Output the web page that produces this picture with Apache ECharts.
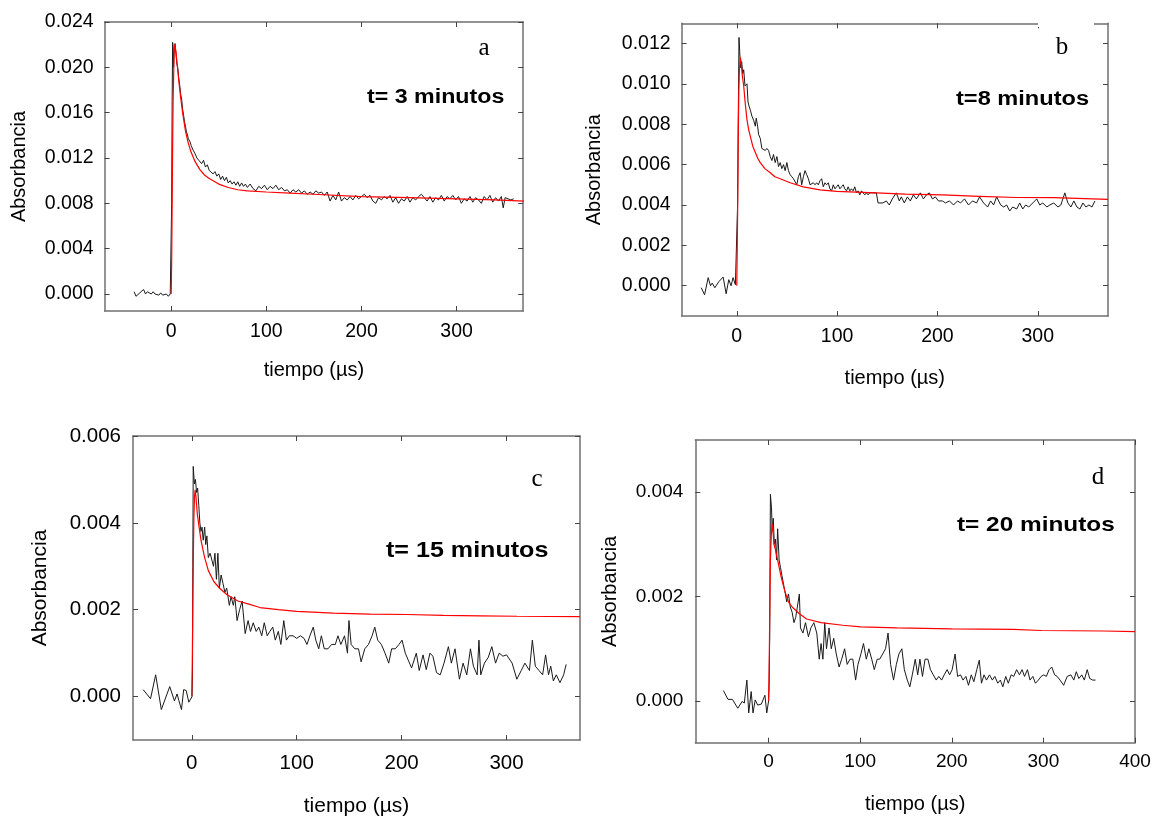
<!DOCTYPE html>
<html><head><meta charset="utf-8">
<script src="https://cdn.jsdelivr.net/npm/echarts@6/dist/echarts.min.js"></script>
<style>html,body{margin:0;padding:0;background:#fff}#chart{width:1155px;height:818px}</style>
</head><body><div id="chart"></div>
<script>
// ---------------- DATA ----------------
const xTicks = [0, 100, 200, 300];
const xTicksD = [0, 100, 200, 300, 400];
const yTicksA = [0, 0.004, 0.008, 0.012, 0.016, 0.020, 0.024];
const yTicksB = [0, 0.002, 0.004, 0.006, 0.008, 0.010, 0.012];
const yTicksC = [0, 0.002, 0.004, 0.006];
const yTicksD = [0, 0.002, 0.004];
const panelLabels = ['a', 'b', 'c', 'd'];
const panelNotes = ['t= 3 minutos', 't=8 minutos', 't= 15 minutos', 't= 20 minutos'];
const xName = 'tiempo (\u00b5s)';
const yName = 'Absorbancia';

// panel a : measured trace [tiempo, absorbancia]
const dataA = [
 [-39,0.0002],[-37,-0.0002],[-35,-0.0001],[-33,0.0001],[-31,0.0000],[-29,0.0004],[-27,0.0000],[-25,0.0002],[-23,0.0003],[-21,0.0000],
 [-19,0.0002],[-17,0.0000],[-15,0.0001],[-13,-0.0001],[-11,0.0001],[-9,-0.0001],[-7,-0.0002],[-5,0.0000],[-3,-0.0002],[-1,0.0000],[0,0.0000],
 [0.5,0.008],[1,0.017],[1.5,0.0222],[2,0.0218],[2.5,0.0200],[3,0.0214],
 [4,0.0221],[5,0.0212],[6,0.0203],[7,0.0199],[8,0.0190],[9,0.0184],[10,0.0176],[11,0.0172],[12,0.0163],[13,0.0158],[14,0.0152],[15,0.0148],
 [16,0.0143],[17,0.0141],[18,0.0137],[19,0.0136],[20,0.0134],[21,0.0131],[22,0.0131],[23,0.0127],[24,0.0126],[25,0.0124],[26,0.0123],
 [27,0.0120],[28,0.0121],[29,0.0118],[30,0.0119],
 [32,0.0115],[34,0.0118],[36,0.0112],[38,0.0114],[40,0.0109],[42,0.0110],[44,0.0106],[46,0.0108],[48,0.0104],[50,0.0106],[52,0.0101],
 [54,0.0104],[56,0.0100],[58,0.0103],[60,0.0098],[62,0.0100],[64,0.0097],[66,0.0099],[68,0.0096],[70,0.0099],[72,0.0095],[74,0.0098],
 [76,0.0095],[78,0.0097],[80,0.0094],
 [83,0.0097],[86,0.0093],[89,0.0091],[92,0.0095],[95,0.0093],[98,0.0096],[101,0.0092],[104,0.0095],[107,0.0093],[110,0.0096],[113,0.0092],
 [116,0.0094],[119,0.0091],[122,0.0092],[125,0.0089],[128,0.0092],[131,0.0090],[134,0.0092],[137,0.0089],[140,0.0091],[143,0.0088],
 [146,0.0090],[149,0.0088],[152,0.0091],[155,0.0089],[158,0.0090],[161,0.0087],[164,0.0090],[167,0.0082],[170,0.0087],[173,0.0083],
 [176,0.0090],[179,0.0082],[182,0.0085],[185,0.0083],[188,0.0086],[191,0.0083],[194,0.0087],[197,0.0084],[200,0.0086],[203,0.0088],
 [206,0.0085],[209,0.0087],[212,0.0082],[215,0.0080],[218,0.0085],[221,0.0083],[224,0.0086],[227,0.0084],[230,0.0087],[233,0.0081],
 [236,0.0085],[239,0.0080],[242,0.0084],[245,0.0082],[248,0.0086],[251,0.0081],[254,0.0085],[257,0.0083],[260,0.0086],[263,0.0088],
 [266,0.0085],[269,0.0082],[272,0.0086],[275,0.0081],[278,0.0085],[281,0.0083],[284,0.0087],[287,0.0082],[290,0.0086],[293,0.0084],
 [296,0.0087],[299,0.0083],[302,0.0086],[305,0.0080],[308,0.0084],[311,0.0082],[314,0.0086],[317,0.0081],[320,0.0085],[323,0.0083],
 [326,0.0080],[329,0.0086],[332,0.0083],[335,0.0087],[338,0.0081],[341,0.0085],[344,0.0082],[347,0.0086],[349,0.0076],[351,0.0085],
 [354,0.0084],[357,0.0083],[360,0.0084]
];
// panel a : fitted curve
const fitA = [
 [0,0],[0.5,0.003],[1,0.008],[1.5,0.013],[2,0.017],[2.5,0.019],[3,0.021],[3.5,0.022],[4,0.0221],[5,0.0214],[6,0.0205],[8,0.0188],
 [10,0.0173],[12,0.0160],[15,0.0144],[18,0.0133],[21,0.0125],[25,0.0117],[30,0.0110],[35,0.0105],[40,0.0102],[50,0.0097],[60,0.0094],
 [70,0.0092],[80,0.0091],[100,0.0090],[125,0.0089],[150,0.0088],[200,0.0086],[250,0.0085],[300,0.0084],[340,0.0083],[371,0.0082]
];

// panel b
const dataB = [
 [-35.4,-0.0001],[-32.1,-0.00045],[-28.5,0.0004],[-26.2,0.0],[-24.5,0.00013],[-21.9,-0.0001],[-17.9,0.0002],[-13.6,0.00043],
 [-10.6,-0.0004],[-8,0.0003],[-5.7,0.0],[-3.7,0.0004],[-1.4,0.00005],[0.3,0.0001],[0.8,0.004],[1.5,0.0085],[2.2,0.0123],
 [2.9,0.0116],[3.9,0.0108],[4.9,0.0111],[5.9,0.0105],[6.9,0.0107],[8.2,0.0099],[10.2,0.0100],[11.2,0.0091],[12.2,0.0089],
 [13.5,0.0087],[15.1,0.0084],[16.8,0.0082],[18.5,0.0079],[19.4,0.0083],[20.8,0.0079],[21.7,0.0075],[23.4,0.0073],[25,0.0068],
 [26.7,0.0068],[28.4,0.0067],[30,0.0068],[31.7,0.0067],[33.3,0.0064],[35,0.0062],[36.6,0.0065],[38.3,0.0061],[40,0.0064],
 [41.6,0.0059],[43.3,0.0061],[44.9,0.0058],[46.6,0.0060],[48.2,0.0057],[49.9,0.0061],[51.5,0.0057],[53.2,0.0055],[54.8,0.0054],
 [56.5,0.0053],[58.1,0.0053],[59.8,0.0050],[61.4,0.0054],[63.1,0.0056],[64.7,0.0050],[66.4,0.0054],[68,0.0057],[69.7,0.0055],
 [71.4,0.0053],[73,0.0050],[74.7,0.0050],[76.3,0.0051],[78,0.0050],[79.6,0.0051],[81.3,0.0050],[82.9,0.0052],[84.6,0.0053],
 [86.2,0.0049],[87.9,0.0051],[89.5,0.0050],[91.2,0.0051],[92.8,0.0048],[94.5,0.0047],[96.2,0.0050],[97.8,0.0048],[99.5,0.0049],
 [101.1,0.0050],[102.8,0.0048],[104.4,0.0049],[106.1,0.0050],[107.7,0.0048],[109.4,0.0047],[111,0.0049],[112.7,0.0047],
 [114.3,0.0048],[116,0.0047],[117.6,0.0049],[119.3,0.0046],[120.9,0.0047],[122.6,0.0045],[124.3,0.0047],[125.9,0.0046],
 [127.6,0.0045],[129.2,0.0046],[130.9,0.0045],[132.5,0.0046],[135.8,0.0046],[139.1,0.0046],[140.8,0.0041],[145.7,0.0041],
 [149,0.0042],[152,0.0040],[155,0.0043],[159,0.0046],[162,0.0042],[164,0.0044],[167,0.0041],[170,0.0044],[173,0.0042],
 [176,0.0045],[179,0.0043],[183,0.0046],[186,0.0043],[189,0.0045],[192,0.0046],[195,0.0043],[198,0.0044],[201,0.0042],
 [205,0.0042],[208,0.0041],[212,0.0042],[216,0.0040],[220,0.0042],[223,0.0041],[227,0.0043],[231,0.0040],[235,0.0042],
 [239,0.0041],[242,0.0044],[246,0.0041],[250,0.0039],[253,0.0042],[256,0.0040],[259,0.0044],[263,0.0040],[266,0.0039],
 [269,0.0040],[272,0.0037],[275,0.0039],[279,0.0038],[282,0.0041],[285,0.0038],[288,0.0040],[291,0.0039],[295,0.0041],
 [299,0.0043],[302,0.0040],[305,0.0041],[309,0.0039],[312,0.0040],[316,0.0041],[320,0.0039],[323,0.0040],[327,0.0046],
 [330,0.0041],[333,0.0039],[336,0.0042],[339,0.0039],[342,0.0038],[345,0.0041],[348,0.0039],[351,0.0040],[354,0.0039],[357,0.0042]
];
const fitB = [
 [0,0],[0.5,0.002],[1,0.0045],[1.5,0.0075],[2,0.0095],[2.5,0.0105],[3,0.0110],[3.6,0.0113],[4.5,0.0110],[5.5,0.0104],[6.9,0.0099],
 [8.5,0.0090],[10.2,0.0082],[12,0.0077],[13.5,0.0074],[16,0.0069],[18.5,0.0066],[21,0.0063],[23.4,0.0061],[28,0.0058],[33.3,0.0056],
 [38,0.0054],[43.3,0.0053],[53.2,0.0051],[66.4,0.0049],[82.9,0.00475],[99.5,0.00467],[139,0.0046],[168,0.00454],[205,0.0045],
 [242,0.00443],[279,0.00437],[316,0.00436],[370,0.00428]
];

// panel c
const dataC = [
 [-46.3,0.00016],[-39.3,-0.00005],[-34.4,0.0005],[-29,-0.0003],[-21,0.00023],[-16.5,-0.0001],[-14,0.00006],[-12.3,-0.00009],
 [-9.8,-0.0003],[-7.7,0.00016],[-5.3,0.00014],[-2.8,-0.00013],[-1,-0.0001],[0.3,0.0],[0.7,0.0005],[1,0.003],[1.4,0.0053],
 [2.5,0.0049],[3.5,0.0050],[4.6,0.0047],[5.6,0.0048],[6.7,0.0044],[7.7,0.0040],[8.8,0.0038],[9.8,0.0039],[10.9,0.0036],
 [12.3,0.0039],[13.3,0.0035],[14.4,0.0037],[15.8,0.0032],[17.5,0.0033],[19.3,0.0033],[20.7,0.0030],[22.1,0.0033],[23.5,0.0027],
 [24.9,0.0033],[26.3,0.0025],[28,0.0028],[29.8,0.0026],[31.6,0.0024],[33.3,0.0025],[35.8,0.0021],[37.5,0.0023],[39.6,0.0021],
 [41,0.0023],[43.2,0.00175],[45.6,0.0020],[48,0.0022],[50.9,0.00145],[53.7,0.00175],[56,0.0015],[58.6,0.0017],[61.4,0.0015],
 [63.9,0.0016],[66.7,0.0014],[69.1,0.0017],[71.9,0.0014],[74.4,0.0015],[77.2,0.0016],[79.6,0.0013],[82.5,0.0015],[84.9,0.0012],
 [87.7,0.00175],[90.2,0.0013],[93,0.0014],[96.5,0.0014],[100,0.00134],[103.5,0.0014],[107,0.00134],[109.8,0.0012],[112.6,0.0014],
 [115.8,0.0016],[118.2,0.0013],[121,0.0011],[123.5,0.0014],[126.3,0.0011],[129.8,0.0011],[133.3,0.0012],[136.8,0.0012],
 [139.3,0.0014],[142.1,0.0012],[145.6,0.0014],[148.4,0.0010],[149.8,0.00175],[151.9,0.0012],[155.4,0.0011],[158.9,0.0011],
 [161.4,0.0008],[164.9,0.0011],[168.4,0.0012],[171.9,0.0014],[174.4,0.0016],[177.2,0.0013],[180.7,0.0012],[184.2,0.0010],
 [187.7,0.00077],[190.5,0.0011],[194,0.0011],[197.5,0.0012],[200.4,0.0013],[203.5,0.0010],[207,0.0008],[209.5,0.00066],
 [214,0.0010],[216.8,0.0006],[220.4,0.00096],[223.5,0.00062],[227,0.0010],[229.8,0.00093],[233.3,0.00055],[236.8,0.0005],
 [240.4,0.00077],[244.6,0.00115],[247.4,0.00077],[250.9,0.0011],[255.1,0.0004],[258.6,0.00077],[262.1,0.0005],[265.6,0.0011],
 [268.4,0.0007],[272,0.0005],[273.7,0.0013],[275.4,0.0005],[278.9,0.00077],[282.5,0.0009],[286,0.00115],[289.5,0.00077],
 [293,0.0010],[296.5,0.00093],[300,0.00096],[305.3,0.00077],[309.8,0.0004],[314,0.0006],[317.5,0.00077],[321.8,0.0006],
 [324.6,0.0013],[327.4,0.0007],[330.9,0.0006],[334.4,0.0005],[337.2,0.00096],[340,0.0005],[342.1,0.0007],[344.6,0.00036],
 [347.4,0.0005],[350.9,0.00032],[354.4,0.0005],[356.8,0.00074]
];
const fitC = [
 [0,0],[0.5,0.0008],[1,0.002],[1.5,0.0032],[2,0.0041],[2.6,0.0046],[3.2,0.00476],[4,0.0046],[5.3,0.0042],[7,0.0039],[8.8,0.0036],
 [10.5,0.0034],[12.3,0.0032],[15.8,0.0029],[21,0.00265],[26.3,0.0025],[33.3,0.00235],[43.9,0.0022],[54.4,0.00213],[65,0.00205],
 [82.5,0.0020],[100,0.00196],[135,0.00192],[170,0.0019],[205,0.00189],[240,0.00187],[275,0.00186],[310,0.00185],[370,0.00184]
];

// panel d
const dataD = [
 [-49.4,0.0002],[-44.3,0.00003],[-39.5,0.00003],[-33.6,-0.00014],[-28.9,-0.00001],[-26.5,-0.00004],[-23.7,0.0004],[-21.7,-0.00023],
 [-19,0.00018],[-17,-0.00023],[-14.6,0.00002],[-11.9,-0.00008],[-7.9,-0.00006],[-4,0.00011],[-2,-0.00023],[0,0.0],[0.6,0.0003],
 [1.2,0.0012],[2,0.00396],[3.2,0.0037],[4,0.00326],[5.1,0.0035],[6.3,0.0030],[7.5,0.0031],[8.7,0.0027],[9.9,0.0033],[11.5,0.0027],
 [13,0.00256],[14.6,0.0024],[16.2,0.0024],[17.8,0.0021],[19.8,0.0019],[21.7,0.00205],[23.7,0.0018],[25.7,0.0017],[27.7,0.0015],
 [29.6,0.0016],[31.6,0.0016],[33.6,0.00205],[34.8,0.0014],[37.5,0.0013],[40.3,0.0015],[43.5,0.00123],[46.2,0.0014],[49.4,0.0015],
 [52.6,0.0013],[55.3,0.0008],[57.3,0.0011],[59.3,0.0008],[61.3,0.0015],[63.2,0.0010],[66,0.0014],[68.4,0.0010],[71.1,0.0012],
 [73.9,0.0009],[77,0.00065],[79.8,0.0008],[83,0.0010],[85.8,0.0007],[88.9,0.0008],[92,0.0008],[95,0.0004],[97.6,0.0007],
 [100.8,0.0009],[103.6,0.0011],[106.7,0.0008],[109.5,0.0010],[112.6,0.0008],[115.4,0.0006],[118.6,0.0008],[121.3,0.0008],
 [124.5,0.0009],[127.7,0.0010],[130.4,0.0013],[133.2,0.0007],[136.4,0.0004],[139.5,0.0007],[142.3,0.0009],[145.5,0.0010],
 [148.2,0.0006],[151.4,0.0004],[154.2,0.00027],[156.9,0.0005],[160.1,0.0008],[162.8,0.0005],[165.2,0.0008],[168,0.00047],
 [170.8,0.0008],[173.9,0.0008],[176.7,0.0006],[179.8,0.0005],[183,0.0004],[185.8,0.00047],[188.9,0.0004],[191.7,0.0005],
 [194.9,0.0006],[197.6,0.0005],[200.4,0.0006],[203.6,0.0009],[206.3,0.00047],[209.5,0.0005],[212.3,0.0004],[215.4,0.00047],
 [218.2,0.0003],[221.3,0.0005],[224.1,0.00037],[227.3,0.0006],[230,0.00078],[232.4,0.00034],[235.2,0.0005],[237.9,0.0004],
 [241.1,0.0005],[244.3,0.0004],[247,0.00047],[250.2,0.00034],[253,0.0004],[255.7,0.00027],[258.9,0.00047],[261.7,0.00034],
 [264.8,0.0005],[267.6,0.00047],[270.8,0.0006],[273.9,0.0005],[276.7,0.0006],[279.4,0.00047],[282.6,0.0006],[285.4,0.0004],
 [288.5,0.00047],[291.3,0.00034],[294.5,0.0004],[297.6,0.00047],[300.4,0.0005],[303.2,0.00047],[306.3,0.0006],[309.1,0.00065],
 [312.3,0.0005],[315,0.00047],[318.2,0.0004],[322.1,0.0003],[326,0.00047],[330,0.0005],[333.2,0.0004],[335.9,0.00056],
 [338.7,0.00043],[341.9,0.0005],[344.7,0.0004],[347.8,0.0006],[350.6,0.00043],[353.8,0.0004],[356.9,0.0004]
];
const fitD = [
 [0,0],[0.5,0.0005],[1,0.0012],[1.5,0.002],[2,0.0027],[3,0.0032],[4,0.0034],[5,0.0032],[5.9,0.0030],[7.5,0.0029],[9.9,0.0027],
 [13.8,0.00237],[17.8,0.0021],[21.7,0.0019],[25.7,0.0018],[33.6,0.00167],[41.5,0.00157],[57.3,0.0015],[81,0.00145],[100.8,0.00142],
 [140,0.0014],[200,0.00138],[266.8,0.00137],[298,0.00135],[365.6,0.00134],[400,0.00133]
];

// ---------------- LAYOUT / STYLE ----------------
const SANS = '"Liberation Sans", Arial, sans-serif';
const SERIF = '"Liberation Serif", "Times New Roman", serif';
const AXIS_COLOR = '#707070';

const panels = [
 {data: dataA, fit: fitA, xr: [-70, 370], yr: [-0.0015, 0.024], xt: xTicks, yt: yTicksA,
  box: {left: 104.6, top: 22, width: 418.6, height: 289}, fs: 19.5, nfs: 20, yGap: 75, xGap: 49, lm: 11, xlm: 11,
  lab: [484, 48], note: [367, 97, 20, 1.16]},
 {data: dataB, fit: fitB, xr: [-55, 370], yr: [-0.0015, 0.013], xt: xTicks, yt: yTicksB,
  box: {left: 681.6, top: 23.3, width: 426.4, height: 292.7}, fs: 19.5, nfs: 20, yGap: 77, xGap: 52, lm: 11, xlm: 11,
  lab: [1062, 47], note: [956, 99, 20, 1.18]},
 {data: dataC, fit: fitC, xr: [-56, 370], yr: [-0.001, 0.006], xt: xTicks, yt: yTicksC,
  box: {left: 133, top: 436, width: 447, height: 308.3}, fs: 20.5, nfs: 21, yGap: 82, xGap: 56, lm: 12, xlm: 13,
  lab: [537, 479], note: [386, 551, 22, 1.14]},
 {data: dataD, fit: fitD, xr: [-80, 400], yr: [-0.0008, 0.005], xt: xTicksD, yt: yTicksD,
  box: {left: 695.3, top: 440, width: 439.7, height: 302.7}, fs: 19, nfs: 20, yGap: 75, xGap: 52, lm: 12, xlm: 10,
  lab: [1098, 477], note: [957, 525, 21, 1.16]}
];

const grids = [], xAxes = [], yAxes = [], series = [], graphics = [];
panels.forEach((p, i) => {
  grids.push(Object.assign({containLabel: false}, p.box));
  const line = {show: true, onZero: false, lineStyle: {color: AXIS_COLOR, width: 1.5}};
  const tick = (vals) => ({show: true, inside: true, length: 5, customValues: vals, lineStyle: {color: '#444', width: 1}});
  xAxes.push({gridIndex: i, type: 'value', position: 'bottom', min: p.xr[0], max: p.xr[1],
    axisLine: line, axisTick: tick(p.xt), splitLine: {show: false},
    axisLabel: {customValues: p.xt, color: '#000', fontFamily: SANS, fontSize: p.fs, margin: p.xlm,
      formatter: v => String(Math.round(v))},
    name: xName, nameLocation: 'middle', nameGap: p.xGap,
    nameTextStyle: {color: '#000', fontFamily: SANS, fontSize: p.nfs}});
  xAxes.push({gridIndex: i, type: 'value', position: 'top', min: p.xr[0], max: p.xr[1],
    axisLine: line, axisTick: tick(p.xt), axisLabel: {show: false}, splitLine: {show: false}});
  yAxes.push({gridIndex: i, type: 'value', position: 'left', min: p.yr[0], max: p.yr[1],
    axisLine: line, axisTick: tick(p.yt), splitLine: {show: false},
    axisLabel: {customValues: p.yt, color: '#000', fontFamily: SANS, fontSize: p.fs, margin: p.lm,
      formatter: v => v.toFixed(3)},
    name: yName, nameLocation: 'middle', nameGap: p.yGap,
    nameTextStyle: {color: '#000', fontFamily: SANS, fontSize: p.nfs}});
  yAxes.push({gridIndex: i, type: 'value', position: 'right', min: p.yr[0], max: p.yr[1],
    axisLine: line, axisTick: tick(p.yt), axisLabel: {show: false}, splitLine: {show: false}});
  series.push({type: 'line', xAxisIndex: 2 * i, yAxisIndex: 2 * i, data: p.data, showSymbol: false,
    lineStyle: {color: '#1a1a1a', width: 1}, z: 2, silent: true});
  series.push({type: 'line', xAxisIndex: 2 * i, yAxisIndex: 2 * i, data: p.fit, showSymbol: false,
    lineStyle: {color: '#ff0000', width: 1.2}, z: 3, silent: true});
  graphics.push({type: 'text', x: p.lab[0], y: p.lab[1], z: 50,
    style: {text: panelLabels[i], font: '25px ' + SERIF, fill: '#000', textAlign: 'center', textVerticalAlign: 'middle'}});
  graphics.push({type: 'text', x: p.note[0], y: p.note[1], scaleX: p.note[3], z: 50,
    style: {text: panelNotes[i], font: 'bold ' + p.note[2] + 'px ' + SANS, fill: '#000', textAlign: 'left', textVerticalAlign: 'middle'}});
});
// white box behind label "b" that interrupts the top frame
graphics.push({type: 'rect', z: 40, shape: {x: 1038, y: 19, width: 56, height: 8}, style: {fill: '#fff'}});

const chart = echarts.init(document.getElementById('chart'), null, {renderer: 'canvas'});
chart.setOption({
  animation: false,
  backgroundColor: '#fff',
  grid: grids, xAxis: xAxes, yAxis: yAxes, series: series, graphic: graphics
});
</script></body></html>
